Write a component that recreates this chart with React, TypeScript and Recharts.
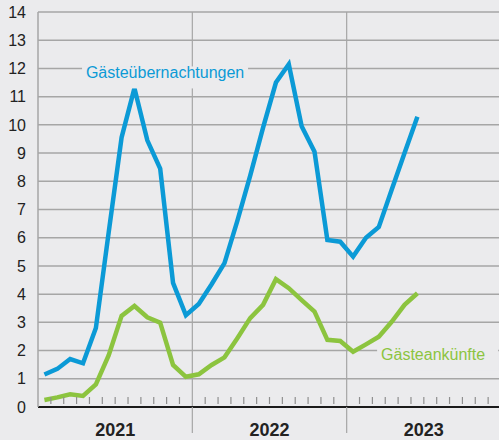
import React from "react";
import {
  LineChart,
  Line,
  XAxis,
  YAxis,
  CartesianGrid,
  ReferenceLine,
  ReferenceDot,
} from "recharts";

const years = ["2021", "2022", "2023"];
const monthsPerYear = 12;

// Mio., monthly values Jan 2021 - Jun 2023
const overnightStays = [
  1.15, 1.35, 1.7, 1.55, 2.8, 6.2, 9.55, 11.3, 9.45, 8.45, 4.4, 3.25,
  3.65, 4.35, 5.1, 6.6, 8.2, 9.9, 11.5, 12.15, 9.95, 9.05, 5.92, 5.86,
  5.33, 6.0, 6.38, 7.7, 9.0, 10.29,
];
const arrivals = [
  0.25, 0.34, 0.45, 0.39, 0.8, 1.84, 3.23, 3.58, 3.18, 2.99, 1.49, 1.07,
  1.16, 1.49, 1.76, 2.44, 3.15, 3.62, 4.53, 4.21, 3.79, 3.38, 2.38, 2.34,
  1.96, 2.22, 2.49, 3.02, 3.62, 4.03,
];
const yTicks = [0, 1, 2, 3, 4, 5, 6, 7, 8, 9, 10, 11, 12, 13, 14];

const totalMonths = years.length * monthsPerYear;
const monthTicks = Array.from({ length: totalMonths + 1 }, (_, i) => i);

// point sits in the middle of its month
const data = overnightStays.map((v, i) => ({
  x: i + 0.5,
  stays: v,
  arrivals: arrivals[i],
}));

const BLUE = "#0b9ad6";
const GREEN = "#8cc43f";
const BG = "#ebebed";
const GRID = "#a6a6a6";

const MonthTick = (props: any) => {
  const { x, y, payload } = props;
  const v = payload.value as number;
  if (v === 0 || v === totalMonths) return <g />;
  if (v % monthsPerYear === 0) {
    return <line x1={x} x2={x} y1={y} y2={y + 26} stroke={GRID} strokeWidth={1.2} />;
  }
  const tick = (
    <line x1={x} x2={x} y1={y - 10} y2={y - 3} stroke="#8f8f8f" strokeWidth={1.2} />
  );
  if (v % monthsPerYear === monthsPerYear / 2) {
    return (
      <g>
        {tick}
        <text x={x} y={y + 29} textAnchor="middle" fontSize={18} fontWeight="bold" fill="#222">
          {years[Math.floor(v / monthsPerYear)]}
        </text>
      </g>
    );
  }
  return tick;
};

const seriesLabel = (text: string, color: string, left: number, right: number) => (p: any) => (
  <g>
    <rect x={p.cx - left} y={p.cy - 2} width={left + right} height={22} fill={BG} />
    <text x={p.cx} y={p.cy + 9.5} textAnchor="middle" fontSize={16} fill={color}>
      {text}
    </text>
  </g>
);

export default function App() {
  return (
    <div
      style={{
        position: "absolute",
        left: 0,
        top: 0,
        width: 499,
        height: 440,
        overflow: "hidden",
        background: BG,
        fontFamily: "'Liberation Sans', Arial, sans-serif",
      }}
    >
      <LineChart
        width={501}
        height={440}
        data={data}
        margin={{ top: 12, right: 0, left: 0, bottom: 0 }}
      >
        <CartesianGrid vertical={false} stroke={GRID} strokeWidth={1.5} />
        <XAxis
          dataKey="x"
          type="number"
          domain={[0, totalMonths]}
          ticks={monthTicks}
          interval={0}
          height={33}
          tickSize={0}
          tickMargin={0}
          tickLine={false}
          axisLine={{ stroke: "#1a1a1a", strokeWidth: 2 }}
          tick={<MonthTick />}
        />
        <YAxis
          type="number"
          domain={[0, 14]}
          ticks={yTicks}
          interval={0}
          width={38}
          tickSize={0}
          tickMargin={12}
          tickLine={false}
          axisLine={{ stroke: GRID, strokeWidth: 1.5 }}
          tick={{ fontSize: 16, fill: "#222" }}
        />
        <ReferenceLine x={12} stroke={GRID} strokeWidth={1.2} />
        <ReferenceLine x={24} stroke={GRID} strokeWidth={1.2} />
        <ReferenceDot
          x={9.88}
          y={12}
          r={1}
          shape={seriesLabel("Gästeübernachtungen", BLUE, 83, 83)}
        />
        <ReferenceDot
          x={30.72}
          y={2}
          r={1}
          shape={seriesLabel("Gästeankünfte", GREEN, 56, 65)}
        />
        <Line
          type="linear"
          dataKey="arrivals"
          stroke={GREEN}
          strokeWidth={4.5}
          dot={false}
          isAnimationActive={false}
        />
        <Line
          type="linear"
          dataKey="stays"
          stroke={BLUE}
          strokeWidth={4.5}
          dot={false}
          isAnimationActive={false}
        />
      </LineChart>
    </div>
  );
}
